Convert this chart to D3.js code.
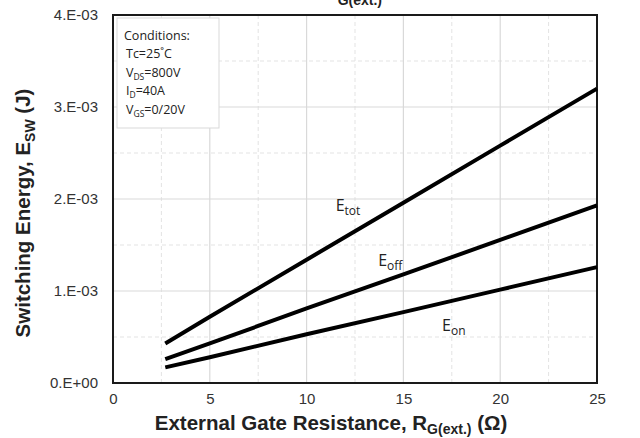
<!DOCTYPE html>
<html><head><meta charset="utf-8">
<script src="https://cdn.jsdelivr.net/npm/d3@7"></script>
<style>body{margin:0;background:#fff}svg{display:block}</style>
</head><body>
<svg id="c" width="640" height="438"></svg>
<script>
const rg = [2.7, 5, 10, 15, 20, 25];
const eTot = [0.43e-3, 0.72e-3, 1.34e-3, 1.96e-3, 2.58e-3, 3.20e-3];
const eOff = [0.26e-3, 0.43e-3, 0.81e-3, 1.18e-3, 1.555e-3, 1.93e-3];
const eOn  = [0.17e-3, 0.28e-3, 0.53e-3, 0.77e-3, 1.015e-3, 1.26e-3];
const xTicks = [0, 5, 10, 15, 20, 25];
const yTicks = [0, 1e-3, 2e-3, 3e-3, 4e-3];
const yTickLabels = ["0.E+00", "1.E-03", "2.E-03", "3.E-03", "4.E-03"];
const conditions = [["Tc=25˚C",""],["V","DS","=800V"],["I","D","=40A"],["V","GS","=0/20V"]];

const svg = d3.select("#c");
const L = 113, R = 597, T = 15, B = 383;
const x = d3.scaleLinear().domain([0, 25]).range([L, R]);
const y = d3.scaleLinear().domain([0, 4e-3]).range([B, T]);

// minor grid
const g = svg.append("g");
g.selectAll(".mx").data(d3.range(2.5, 25, 5)).join("line")
  .attr("x1", d => x(d)).attr("x2", d => x(d)).attr("y1", T).attr("y2", B)
  .attr("stroke", "#e3e3e3").attr("stroke-dasharray", "4,3");
g.selectAll(".my").data(d3.range(0.5e-3, 4e-3, 1e-3)).join("line")
  .attr("x1", L).attr("x2", R).attr("y1", d => y(d)).attr("y2", d => y(d))
  .attr("stroke", "#e3e3e3").attr("stroke-dasharray", "4,3");
// major grid
g.selectAll(".Mx").data([5, 10, 15, 20]).join("line")
  .attr("x1", d => x(d)).attr("x2", d => x(d)).attr("y1", T).attr("y2", B)
  .attr("stroke", "#d9d9d9").attr("stroke-width", 1.2);
g.selectAll(".My").data([1e-3, 2e-3, 3e-3]).join("line")
  .attr("x1", L).attr("x2", R).attr("y1", d => y(d)).attr("y2", d => y(d))
  .attr("stroke", "#d9d9d9").attr("stroke-width", 1.2);

// axes ticks labels
const xAxis = d3.axisBottom(x).tickValues(xTicks).tickSize(0).tickPadding(10);
const yAxis = d3.axisLeft(y).tickValues(yTicks).tickSize(0).tickPadding(15)
  .tickFormat((d, i) => yTickLabels[i]);
const gx = svg.append("g").attr("transform", `translate(0,${B})`).call(xAxis);
const gy = svg.append("g").attr("transform", `translate(${L},0)`).call(yAxis);
[gx, gy].forEach(a => {
  a.select(".domain").remove();
  a.selectAll("text").attr("font-family", "Liberation Sans, Arial, sans-serif")
    .attr("font-size", 15).attr("fill", "#333");
});

// frame
svg.append("rect").attr("x", L).attr("y", T).attr("width", R - L).attr("height", B - T)
  .attr("fill", "none").attr("stroke", "#1a1a1a").attr("stroke-width", 2);

// conditions box
svg.append("rect").attr("x", 117).attr("y", 18).attr("width", 102).attr("height", 110)
  .attr("fill", "#fff").attr("stroke", "#d9d9d9").attr("stroke-width", 1);
const cf = "Open Sans, Noto Sans, sans-serif";
svg.append("text").attr("x", 124).attr("y", 40).attr("font-family", cf)
  .attr("font-size", 12.5).attr("fill", "#222").text("Conditions:");
conditions.forEach((c, i) => {
  const t = svg.append("text").attr("x", 126).attr("y", 58 + i * 18.5)
    .attr("font-family", cf).attr("font-size", 12.5).attr("fill", "#222");
  if (c.length === 2) { t.text(c[0]); return; }
  t.append("tspan").text(c[0]);
  t.append("tspan").attr("dy", 3).attr("font-size", 8.5).text(c[1]);
  t.append("tspan").attr("dy", -3).text(c[2]);
});

// lines
const line = d3.line().x((d, i) => x(rg[i])).y(d => y(d));
[eTot, eOff, eOn].forEach(s => {
  svg.append("path").datum(s).attr("d", line).attr("fill", "none")
    .attr("stroke", "#000").attr("stroke-width", 4).attr("stroke-linecap", "butt");
});

// series labels
const lab = [["tot", 11.5, 1.87e-3], ["off", 13.7, 1.27e-3], ["on", 17.0, 0.57e-3]];
lab.forEach(([s, xv, yv]) => {
  const t = svg.append("text").attr("x", x(xv)).attr("y", y(yv))
    .attr("font-family", cf).attr("font-size", 16).attr("fill", "#222");
  t.append("tspan").text("E");
  t.append("tspan").attr("dy", 4).attr("font-size", 12).text(s);
});

// axis titles
const bf = "Liberation Sans, Arial, sans-serif";
const xt = svg.append("text").attr("x", 331).attr("y", 430)
  .attr("text-anchor", "middle").attr("font-family", bf).attr("font-weight", "bold")
  .attr("font-size", 20.5).attr("fill", "#222");
xt.append("tspan").text("External Gate Resistance, R");
xt.append("tspan").attr("dy", 4).attr("font-size", 14).text("G(ext.)");
xt.append("tspan").attr("dy", -4).text(" (Ω)");

const yt = svg.append("text").attr("transform", `translate(30,213) rotate(-90)`)
  .attr("text-anchor", "middle").attr("font-family", bf).attr("font-weight", "bold")
  .attr("font-size", 20.5).attr("fill", "#222");
yt.append("tspan").text("Switching Energy, E");
yt.append("tspan").attr("dy", 5).attr("font-size", 14).text("SW");
yt.append("tspan").attr("dy", -5).text(" (J)");

// title (cut off at top, as in the reference)
const tt = svg.append("text").attr("x", 382).attr("y", 0)
  .attr("text-anchor", "end").attr("font-family", bf).attr("font-weight", "bold")
  .attr("font-size", 20).attr("fill", "#222");
tt.append("tspan").text("Esw vs. R");
tt.append("tspan").attr("dy", 5).attr("font-size", 14).text("G(ext.)");
</script>
</body></html>
